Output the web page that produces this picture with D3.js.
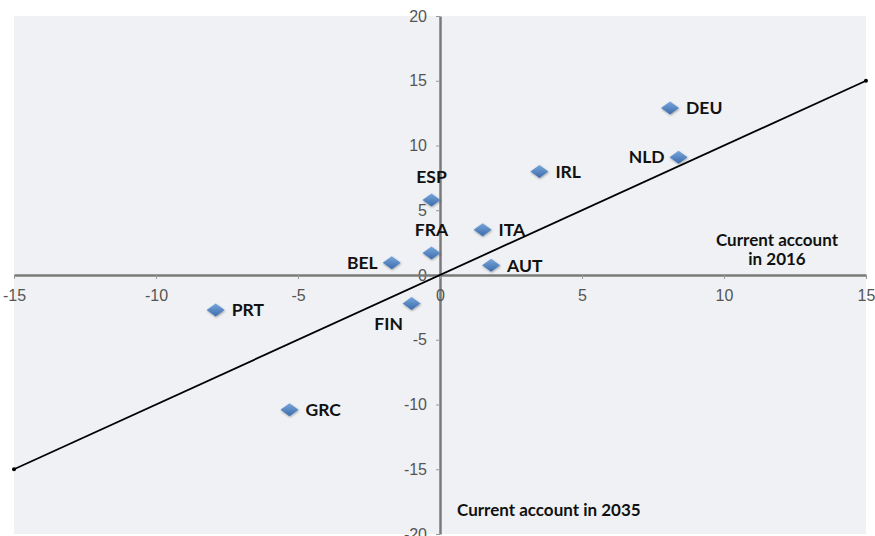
<!DOCTYPE html>
<html>
<head>
<meta charset="utf-8">
<script src="https://cdn.jsdelivr.net/npm/d3@7"></script>
<style>
  body { margin: 0; background: #fff; }
  svg { display: block; font-family: Lato, "Open Sans", sans-serif; }
</style>
</head>
<body>
<svg id="chart"></svg>
<script>
// current account 2016 (x) vs 2035 (y)
const countries = ["DEU", "NLD", "IRL", "ESP", "ITA", "FRA", "BEL", "AUT", "FIN", "PRT", "GRC"];
const ca2016 = [8.1, 8.4, 3.5, -0.3, 1.5, -0.3, -1.7, 1.8, -1.0, -7.9, -5.3];
const ca2035 = [12.9, 9.1, 8.0, 5.8, 3.5, 1.7, 0.95, 0.75, -2.2, -2.7, -10.4];
// where the label sits relative to the point
const labelSide = ["right", "left", "right", "above", "right", "above", "left", "right", "belowleft", "right", "right"];
const xTicks = [-15, -10, -5, 0, 5, 10, 15];
const yTicks = [-20, -15, -10, -5, 0, 5, 10, 15, 20];
const diagonal = [-15, 15];

const width = 875, height = 536;
const svg = d3.select("#chart").attr("width", width).attr("height", height);

const x = d3.scaleLinear().domain([-15, 15]).range([14, 866]);
const y = d3.scaleLinear().domain([-20, 20]).range([534, 16]);

const defs = svg.append("defs");
const grad = defs.append("linearGradient").attr("id", "dia").attr("x1", 0).attr("y1", 0).attr("x2", 0).attr("y2", 1);
grad.append("stop").attr("offset", "0%").attr("stop-color", "#78a6dc");
grad.append("stop").attr("offset", "100%").attr("stop-color", "#3b6cab");
const shadow = defs.append("filter").attr("id", "shadow").attr("x", "-50%").attr("y", "-50%").attr("width", "200%").attr("height", "200%");
shadow.append("feDropShadow").attr("dx", 0.5).attr("dy", 1).attr("stdDeviation", 1).attr("flood-opacity", 0.35);

// plot background
svg.append("rect")
  .attr("x", x(-15)).attr("y", y(20))
  .attr("width", x(15) - x(-15)).attr("height", y(-20) - y(20))
  .attr("fill", "#f0f1f4");

const plain = d => String(d); // keep plain hyphen minus like the original

// y axis through x=0
const yAxis = svg.append("g")
  .attr("transform", `translate(${x(0)},0)`)
  .call(d3.axisLeft(y).tickValues(yTicks).tickFormat(plain).tickSize(4).tickPadding(9).tickSizeOuter(0));

// x axis through y=0
const xAxis = svg.append("g")
  .attr("transform", `translate(0,${y(0)})`)
  .call(d3.axisBottom(x).tickValues(xTicks).tickFormat(plain).tickSize(4).tickPadding(11).tickSizeOuter(0));

[xAxis, yAxis].forEach(ax => {
  ax.select(".domain").attr("stroke", "#7a7a7a").attr("stroke-width", 2.5);
  ax.selectAll(".tick line").attr("stroke", "#999");
  ax.selectAll(".tick text").attr("fill", "#555").style("font-size", "16px");
});

// 45 degree line
svg.append("line")
  .attr("x1", x(diagonal[0])).attr("y1", y(diagonal[0]))
  .attr("x2", x(diagonal[1])).attr("y2", y(diagonal[1]))
  .attr("stroke", "#000").attr("stroke-width", 1.8);
svg.selectAll(".end")
  .data(diagonal)
  .join("circle")
  .attr("cx", d => x(d)).attr("cy", d => y(d)).attr("r", 2).attr("fill", "#000");

const pts = countries.map((c, i) => ({ name: c, vx: ca2016[i], vy: ca2035[i], side: labelSide[i] }));

svg.selectAll(".pt")
  .data(pts)
  .join("path")
  .attr("d", "M0,-6.5L9,0L0,6.5L-9,0Z")
  .attr("transform", d => `translate(${x(d.vx)},${y(d.vy)})`)
  .attr("fill", "url(#dia)")
  .attr("filter", "url(#shadow)");

const offsets = {
  right: [16, 0, "start"],
  left: [-14, 0, "end"],
  above: [0, -23, "middle"],
  belowleft: [-23, 20, "middle"]
};

svg.selectAll(".lbl")
  .data(pts)
  .join("text")
  .attr("x", d => x(d.vx) + offsets[d.side][0])
  .attr("y", d => y(d.vy) + offsets[d.side][1])
  .attr("dy", "0.36em")
  .attr("text-anchor", d => offsets[d.side][2])
  .style("font-size", "17.5px")
  .style("font-weight", "bold")
  .attr("fill", "#111")
  .text(d => d.name);

// axis titles
const t1 = svg.append("text")
  .attr("x", 777).attr("y", 240)
  .attr("text-anchor", "middle")
  .style("font-size", "17px").style("font-weight", "bold").attr("fill", "#111");
t1.append("tspan").attr("x", 777).attr("dy", "0.36em").text("Current account");
t1.append("tspan").attr("x", 777).attr("dy", "19px").text("in 2016");

svg.append("text")
  .attr("x", 457).attr("y", 510).attr("dy", "0.36em")
  .style("font-size", "17px").style("font-weight", "bold").attr("fill", "#111")
  .text("Current account in 2035");
</script>
</body>
</html>
